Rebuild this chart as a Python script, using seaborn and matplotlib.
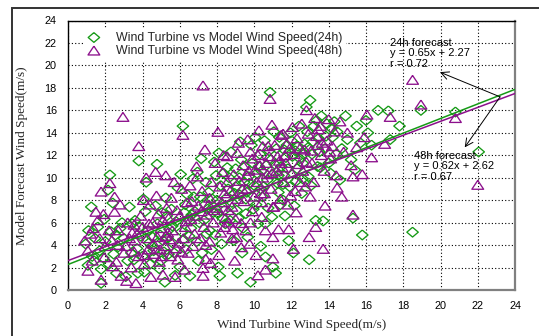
import numpy as np
import pandas as pd
import matplotlib
matplotlib.use("Agg")
import matplotlib.pyplot as plt
from matplotlib.patches import Rectangle
import seaborn as sns

sns.set_style("white")
plt.rcParams['font.family'] = ['Liberation Sans', 'DejaVu Sans']

# --- Wind Turbine vs Model Wind Speed (24h forecast) ---
w24 = [
    (1.07, 2.2), (1.25, 7.4), (0.95, 4.1), (1.3, 3.0), (1.4, 2.6), (1.1, 5.3), (1.45, 4.6),
    (1.78, 0.6), (1.78, 1.85), (1.9, 2.85), (2.15, 8.9), (2.25, 10.25), (2.4, 7.75), (1.7, 3.5),
    (2.0, 4.3), (2.3, 5.2), (1.6, 5.6), (2.2, 2.3), (2.45, 3.2), (1.95, 6.3),
    (2.7, 3.85), (3.3, 7.4), (2.6, 1.5), (2.8, 5.5), (3.0, 4.6), (3.2, 2.6), (3.4, 3.3),
    (2.9, 6.0), (3.1, 1.2), (3.45, 5.9), (2.55, 4.9),
    (3.75, 1.5), (4.1, 1.6), (3.8, 11.5), (4.2, 9.6), (3.6, 6.2), (3.9, 4.8), (4.0, 3.0),
    (4.3, 5.3), (3.7, 3.7), (4.4, 2.3), (4.15, 7.0), (3.55, 2.7), (4.35, 4.2), (3.85, 5.6), (4.05, 8.1),
    (4.78, 11.2), (5.2, 0.7), (4.6, 3.5), (4.8, 5.9), (5.0, 2.6), (5.1, 4.4), (5.3, 6.6),
    (4.7, 7.5), (5.4, 3.2), (4.9, 1.9), (5.25, 8.2), (4.55, 4.7), (5.45, 5.4), (5.05, 6.9), (4.65, 2.9),
    (6.0, 2.05), (6.17, 14.6), (6.05, 10.3), (5.6, 4.2), (5.8, 6.1), (6.3, 7.6), (5.7, 3.3),
    (6.1, 5.2), (6.4, 8.5), (5.9, 9.1), (6.2, 4.5), (5.55, 7.2), (6.45, 6.3), (5.75, 1.3), (6.35, 3.6),
    (6.55, 1.25), (7.0, 2.6), (6.6, 5.5), (6.8, 7.0), (7.1, 8.3), (7.3, 6.2), (6.9, 4.3),
    (7.4, 9.6), (6.7, 9.9), (7.2, 3.3), (7.45, 5.0), (6.95, 10.5), (7.35, 7.6), (6.65, 6.7), (7.15, 11.7),
    (7.85, 11.4), (8.1, 12.2), (8.15, 1.25), (8.07, 2.05), (8.25, 4.1), (7.6, 5.3), (7.8, 6.9),
    (8.0, 8.0), (8.2, 9.3), (8.4, 7.1), (7.7, 3.6), (8.35, 10.4), (7.9, 4.9), (8.45, 5.9),
    (7.55, 8.7), (8.3, 6.4),
    (9.1, 1.5), (9.4, 5.5), (8.6, 9.0), (8.8, 7.8), (9.0, 10.8), (9.2, 8.5), (8.7, 6.2),
    (9.3, 11.6), (8.9, 4.4), (9.45, 9.6), (8.55, 10.9), (9.05, 7.1), (9.35, 3.3), (8.75, 12.3),
    (9.15, 6.4), (9.25, 13.2),
    (9.8, 0.7), (10.2, 5.9), (10.35, 3.9), (9.6, 8.7), (9.7, 10.1), (9.9, 11.3), (10.0, 9.3),
    (10.1, 7.6), (10.3, 12.1), (10.4, 10.6), (9.55, 6.8), (9.85, 12.9), (10.45, 8.3),
    (10.05, 13.6), (9.65, 4.7), (10.25, 11.0), (9.95, 7.2),
    (10.6, 5.9), (10.6, 2.95), (10.85, 17.6), (11.0, 2.05), (11.15, 1.5), (11.4, 7.6),
    (10.7, 9.8), (10.9, 11.6), (11.0, 10.3), (11.2, 12.6), (11.3, 8.7), (10.55, 13.3),
    (10.75, 7.3), (11.05, 14.1), (11.45, 11.0), (10.95, 6.5), (11.25, 9.5), (11.35, 13.6), (10.65, 11.1),
    (11.85, 4.4), (12.1, 3.3), (12.2, 12.4), (11.6, 10.2), (11.7, 11.8), (11.9, 9.2),
    (12.0, 13.3), (12.3, 10.8), (12.4, 14.6), (11.55, 8.0), (11.75, 12.9), (12.15, 7.5),
    (12.45, 11.7), (11.95, 14.0), (12.25, 9.7), (11.65, 6.6),
    (12.8, 16.3), (13.0, 16.9), (12.95, 2.7), (13.3, 6.2), (12.6, 11.3), (12.7, 13.0),
    (12.9, 10.1), (13.1, 12.1), (13.2, 14.6), (13.4, 11.0), (12.55, 8.6), (13.45, 13.5),
    (12.85, 14.1), (13.05, 9.3), (13.35, 15.1),
    (13.6, 15.5), (13.7, 6.15), (14.6, 9.8), (13.8, 12.6), (14.0, 11.3), (14.2, 13.6),
    (14.4, 12.1), (13.9, 14.8), (14.1, 10.4), (14.3, 15.0), (13.55, 10.9), (14.45, 14.1),
    (15.3, 6.4), (15.8, 4.9), (14.7, 12.6), (15.0, 13.4), (15.2, 11.6), (15.5, 14.6),
    (15.7, 13.1), (16.0, 15.1), (16.3, 12.9), (14.9, 15.5), (15.4, 10.7), (16.1, 14.0),
    (16.65, 16.0), (17.2, 15.95), (17.3, 13.4), (18.5, 5.15), (18.95, 16.0), (20.8, 15.85),
    (22.05, 12.3), (17.8, 14.6),
    # denser core of the cloud
    (4.5, 3.9), (4.95, 4.9), (5.15, 3.4), (5.6, 5.7), (6.25, 6.9), (6.75, 8.3), (7.05, 6.0),
    (7.5, 7.2), (7.75, 8.1), (8.05, 6.8), (8.5, 8.2), (8.65, 10.0), (9.0, 9.2), (9.2, 10.0),
    (9.5, 11.0), (9.75, 9.5), (10.15, 10.4), (10.5, 9.2), (10.8, 12.4), (11.1, 11.2),
    (11.3, 10.2), (11.6, 12.5), (11.8, 10.8), (12.05, 11.9), (12.35, 12.8), (12.65, 12.1),
    (12.9, 12.7), (13.15, 13.2), (13.5, 12.3), (13.85, 13.7), (14.15, 14.4), (10.35, 9.0),
    (9.55, 8.1), (8.95, 8.6), (11.55, 9.4), (12.6, 9.9), (7.95, 10.2), (6.5, 4.8), (5.35, 4.6),
]

# --- Wind Turbine vs Model Wind Speed (48h forecast) ---
w48 = [
    (1.07, 1.7), (1.07, 3.5), (1.2, 5.0), (1.35, 5.5), (1.5, 6.95), (1.3, 2.6), (0.9, 4.4),
    (1.6, 6.2), (1.78, 0.9), (1.78, 8.75), (1.9, 6.75), (2.25, 9.5), (2.5, 8.3), (2.5, 6.95),
    (2.0, 3.9), (1.7, 4.6), (2.2, 5.3), (2.4, 2.1), (1.95, 2.9), (2.35, 4.4),
    (2.85, 1.25), (2.95, 15.4), (3.15, 0.8), (2.7, 5.3), (3.0, 3.3), (3.3, 4.6), (2.6, 2.5),
    (3.2, 6.0), (3.4, 2.0), (2.8, 7.6), (3.45, 5.1), (3.1, 3.9), (2.65, 4.0),
    (3.65, 0.6), (3.8, 12.8), (4.2, 10.0), (4.45, 1.15), (3.6, 4.4), (3.8, 3.0), (4.0, 5.6),
    (4.1, 2.3), (4.3, 3.6), (3.9, 6.6), (4.4, 7.6), (3.7, 5.0), (4.25, 4.6), (3.55, 3.4),
    (4.05, 8.0), (4.35, 5.9),
    (4.7, 10.5), (5.1, 1.35), (5.25, 10.2), (4.6, 3.2), (4.8, 4.7), (5.0, 5.5), (5.2, 3.9),
    (5.4, 6.4), (4.9, 2.5), (5.3, 7.3), (4.55, 6.0), (5.45, 4.5), (4.75, 8.4), (5.05, 3.0),
    (5.35, 5.1), (4.85, 6.8),
    (5.7, 9.6), (5.75, 1.15), (6.17, 13.8), (5.6, 5.3), (5.8, 3.7), (6.0, 6.6), (6.2, 4.6),
    (6.4, 7.8), (5.9, 2.7), (6.3, 5.6), (5.55, 8.2), (6.1, 9.0), (6.45, 3.3), (5.85, 7.1), (6.25, 1.8),
    (6.9, 11.0), (7.25, 18.2), (7.35, 12.5), (7.25, 1.25), (7.25, 1.95), (7.4, 2.75),
    (6.6, 6.3), (6.8, 5.0), (7.0, 7.5), (7.2, 8.8), (6.7, 3.9), (7.1, 4.6), (6.55, 9.3),
    (7.45, 6.7), (6.95, 10.1), (7.3, 5.6), (6.65, 7.9),
    (8.05, 14.07), (7.6, 4.3), (7.8, 6.0), (8.0, 7.3), (8.2, 5.1), (8.4, 8.6), (7.7, 9.6),
    (8.1, 3.1), (8.3, 10.5), (7.9, 11.3), (7.55, 7.6), (8.45, 6.4), (8.15, 9.2), (7.65, 2.4), (8.35, 12.0),
    (8.8, 4.6), (8.85, 5.4), (9.05, 4.7), (9.1, 12.2), (9.3, 3.8), (9.3, 5.95), (8.6, 7.1),
    (8.7, 8.8), (8.9, 10.3), (9.0, 6.3), (9.2, 9.7), (9.4, 11.1), (8.55, 11.9), (8.95, 2.6),
    (9.45, 7.9), (9.15, 13.1), (8.65, 6.0),
    (9.9, 7.0), (10.1, 3.1), (10.2, 1.3), (10.25, 14.2), (10.4, 6.5), (10.4, 7.8), (9.6, 9.0),
    (9.7, 10.6), (9.8, 12.3), (10.0, 8.3), (10.3, 11.1), (9.55, 5.3), (10.15, 9.6), (9.75, 4.1),
    (10.45, 12.8), (10.05, 10.7), (9.65, 13.4),
    (10.6, 5.3), (10.6, 1.8), (10.85, 17.0), (11.0, 7.4), (11.0, 4.7), (11.0, 2.8), (11.3, 5.4),
    (11.05, 7.4), (10.7, 10.3), (10.8, 11.9), (10.9, 9.0), (11.1, 12.9), (11.2, 10.6),
    (11.4, 8.1), (10.55, 8.6), (11.45, 13.8), (10.75, 12.8), (11.35, 11.5), (10.95, 14.7),
    (11.85, 5.4), (12.1, 3.65), (11.6, 9.6), (11.7, 11.3), (11.9, 12.6), (12.0, 10.4),
    (12.2, 8.8), (12.3, 13.5), (12.4, 11.2), (11.55, 13.9), (11.8, 7.6), (12.45, 9.6),
    (12.05, 14.5), (11.65, 12.0), (12.25, 6.9), (11.95, 8.4),
    (12.8, 16.0), (12.95, 4.7), (13.3, 5.6), (12.6, 10.6), (12.7, 12.5), (12.9, 13.9),
    (13.1, 11.3), (13.2, 9.6), (13.4, 12.9), (12.55, 14.8), (13.0, 8.3), (13.45, 14.3),
    (12.75, 9.2), (13.25, 15.3),
    (13.7, 3.65), (13.8, 7.5), (14.4, 10.2), (13.6, 12.0), (13.9, 13.3), (14.1, 11.7),
    (14.3, 14.1), (13.75, 10.6), (14.2, 12.8), (14.45, 9.1), (13.55, 14.6), (14.0, 15.2),
    (14.7, 8.3), (15.3, 6.7), (15.3, 10.1), (15.8, 10.3), (16.05, 15.6), (14.8, 12.3),
    (15.0, 14.0), (15.5, 12.7), (15.9, 13.6), (16.3, 11.8), (14.6, 15.0), (15.2, 11.1),
    (17.3, 15.4), (18.5, 18.7), (18.95, 16.5), (20.8, 15.3), (22.0, 9.35), (17.0, 13.0),
    # denser core of the cloud
    (4.6, 4.1), (4.95, 3.6), (5.25, 4.8), (5.5, 3.0), (5.95, 4.2), (6.35, 6.1), (6.85, 6.6),
    (7.15, 7.0), (7.6, 8.2), (7.85, 7.1), (8.25, 7.8), (8.55, 9.6), (8.8, 7.4), (9.1, 8.1),
    (9.35, 9.0), (9.6, 10.2), (9.9, 11.7), (10.2, 12.0), (10.45, 10.0), (10.65, 11.3),
    (10.95, 10.4), (11.25, 11.9), (11.5, 10.9), (11.75, 13.0), (12.15, 12.1), (12.45, 12.6),
    (12.8, 11.4), (13.05, 12.4), (13.35, 13.7), (13.65, 13.1), (14.05, 12.3), (10.35, 8.6),
    (9.8, 6.0), (8.4, 5.6), (7.4, 4.0), (6.1, 3.4), (5.1, 6.2), (4.15, 3.1), (3.55, 5.8),
]

labels = ["Wind Turbine vs Model Wind Speed(24h)", "Wind Turbine vs Model Wind Speed(48h)"]
colors = ["#159a15", "#8c108c"]
slopes = [0.65, 0.62]
intercepts = [2.27, 2.62]
fit_x = np.array([0, 24])

df24 = pd.DataFrame(w24, columns=["turbine", "model"])
df48 = pd.DataFrame(w48, columns=["turbine", "model"])

diamond = [(0, 0.85), (1, 0), (0, -0.85), (-1, 0), (0, 0.85)]
triangle = [(0, 0.78), (-1, -0.72), (1, -0.72), (0, 0.78)]

fig = plt.figure(figsize=(5.39, 3.36), dpi=100)
ax = fig.add_axes([68 / 539, 1 - 290 / 336, 447 / 539, 269.5 / 336])

sns.scatterplot(data=df24, x="turbine", y="model", marker=diamond, s=68,
                facecolor="none", edgecolor=colors[0], linewidth=0.95,
                label=labels[0], ax=ax, zorder=3)
sns.scatterplot(data=df48, x="turbine", y="model", marker=triangle, s=72,
                facecolor="none", edgecolor=colors[1], linewidth=0.95,
                label=labels[1], ax=ax, zorder=3)

for m, b, c in zip(slopes, intercepts, colors):
    sns.lineplot(x=fit_x, y=m * fit_x + b, color=c, lw=1.1, ax=ax, zorder=4)

ax.set_xlim(0, 24)
ax.set_ylim(0, 24)
ax.set_xticks(np.arange(0, 25, 2))
ax.set_yticks(np.arange(0, 25, 2))
ax.grid(True, color="black", linestyle=(0, (1, 2)), linewidth=0.8)
ax.tick_params(direction="out", length=4, width=1, labelsize=7.8, pad=4, colors="black")

for side in ["top", "left"]:
    ax.spines[side].set_color("black")
    ax.spines[side].set_linewidth(1.0)
for side in ["bottom", "right"]:
    ax.spines[side].set_color("#808080")
    ax.spines[side].set_linewidth(1.6)

serif = ['Liberation Serif', 'DejaVu Serif']
ax.set_xlabel("Wind Turbine Wind Speed(m/s)", family=serif, fontsize=9.5, va="center")
ax.set_ylabel("Model Forecast Wind Speed(m/s)", family=serif, fontsize=9.5, va="center")
ax.xaxis.set_label_coords(0.523, -0.13)
ax.yaxis.set_label_coords(-0.103, 0.5)

leg = ax.legend(loc="upper left", bbox_to_anchor=(0.022, 0.995), frameon=True,
                fancybox=False, framealpha=1, edgecolor="none", fontsize=8.9,
                handlelength=1.0, handletextpad=1.3, labelspacing=0.1,
                borderpad=0.3, markerscale=1.0)
leg.set_zorder(5)

txt = dict(fontsize=8, color="black", va="top", ha="left", linespacing=1.05, zorder=6)
ax.text(17.3, 22.45, "24h forecast\ny = %.2fx + %.2f\nr = 0.72" % (slopes[0], intercepts[0]), **txt)
ax.text(18.6, 12.4, "48h forecast\ny = %.2fx + %.2f\nr = 0.67" % (slopes[1], intercepts[1]), **txt)

arrow = dict(arrowstyle="->", color="black", lw=0.7, mutation_scale=14, shrinkA=0, shrinkB=0)
ax.annotate("", xy=(19.97, 19.4), xytext=(23.2, 17.2), arrowprops=arrow, zorder=6)
ax.annotate("", xy=(21.3, 12.7), xytext=(23.2, 17.2), arrowprops=arrow, zorder=6)

# outer frame of the figure (only its left and top edges are in view)
fig.add_artist(Rectangle((12 / 539, -0.1), 1.2, 1 - 8 / 336 + 0.1, transform=fig.transFigure,
                         fill=False, edgecolor="#333333", linewidth=1.4))

fig.savefig("out.png", dpi=100)
